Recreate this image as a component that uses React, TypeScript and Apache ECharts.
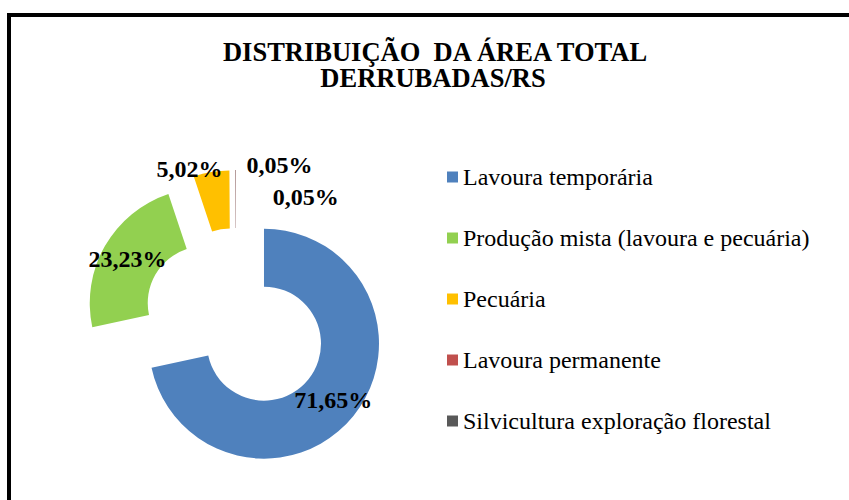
import React, { useEffect, useRef } from "react";
import * as echarts from "echarts";

const categories = [
  "Lavoura temporária",
  "Produção mista (lavoura e pecuária)",
  "Pecuária",
  "Lavoura permanente",
  "Silvicultura exploração florestal",
];
const values = [71.65, 23.23, 5.02, 0.05, 0.05];
const colors = ["#4F81BD", "#92D050", "#FFC000", "#C0504D", "#595959"];
const titleLine1 = "DISTRIBUIÇÃO  DA ÁREA TOTAL";
const titleLine2 = "DERRUBADAS/RS";

// label nudges for the small slices (dx, dy)
const labelShift: [number, number][] = [
  [0, 0],
  [0, 0],
  [-26, -29],
  [44, -31],
  [70, 1],
];

const FONT = "Liberation Serif";

export default function App() {
  const ref = useRef<HTMLDivElement>(null);
  useEffect(() => {
    if (!ref.current) return;
    const chart = echarts.init(ref.current, undefined, { renderer: "svg" });
    const titleStyle = {
      fontFamily: FONT,
      fontWeight: "bold",
      fontSize: 26.5,
      lineHeight: 25,
      color: "#000",
    };
    chart.setOption({
      animation: false,
      backgroundColor: "#ffffff",
      title: [
        {
          text: titleLine1,
          left: 435,
          textAlign: "center",
          top: 39,
          padding: 0,
          textStyle: titleStyle,
        },
        {
          text: titleLine2,
          left: 433,
          textAlign: "center",
          top: 65,
          padding: 0,
          textStyle: titleStyle,
        },
      ],
      legend: {
        orient: "vertical",
        left: 447,
        top: 165,
        padding: 0,
        itemWidth: 11,
        itemHeight: 11,
        itemGap: 37,
        icon: "rect",
        data: categories,
        textStyle: {
          fontFamily: FONT,
          fontSize: 24,
          lineHeight: 24,
          color: "#000",
        },
        selectedMode: false,
      },
      graphic: [
        {
          type: "rect",
          shape: { x: 9, y: 15, width: 1000, height: 1000 },
          style: { fill: "none", stroke: "#000", lineWidth: 4 },
          silent: true,
        },
      ],
      series: [
        {
          type: "pie",
          center: [236, 321],
          radius: [57, 115],
          startAngle: 90,
          clockwise: true,
          selectedMode: "multiple",
          selectedOffset: 36,
          avoidLabelOverlap: false,
          emphasis: { disabled: true },
          label: {
            show: true,
            position: "inside",
            fontFamily: FONT,
            fontWeight: "bold",
            fontSize: 24,
            color: "#000",
            formatter: (p: any) => p.value.toFixed(2).replace(".", ",") + "%",
          },
          labelLine: { show: false },
          labelLayout: (p: any) => ({
            dx: labelShift[p.dataIndex][0],
            dy: labelShift[p.dataIndex][1],
          }),
          data: categories.map((name, i) => ({
            name,
            value: values[i],
            selected: true,
            itemStyle: { color: colors[i] },
          })),
        },
      ],
    });
    return () => chart.dispose();
  }, []);
  return (
    <div
      ref={ref}
      style={{ position: "fixed", left: 0, top: 0, width: 849, height: 500 }}
    />
  );
}
